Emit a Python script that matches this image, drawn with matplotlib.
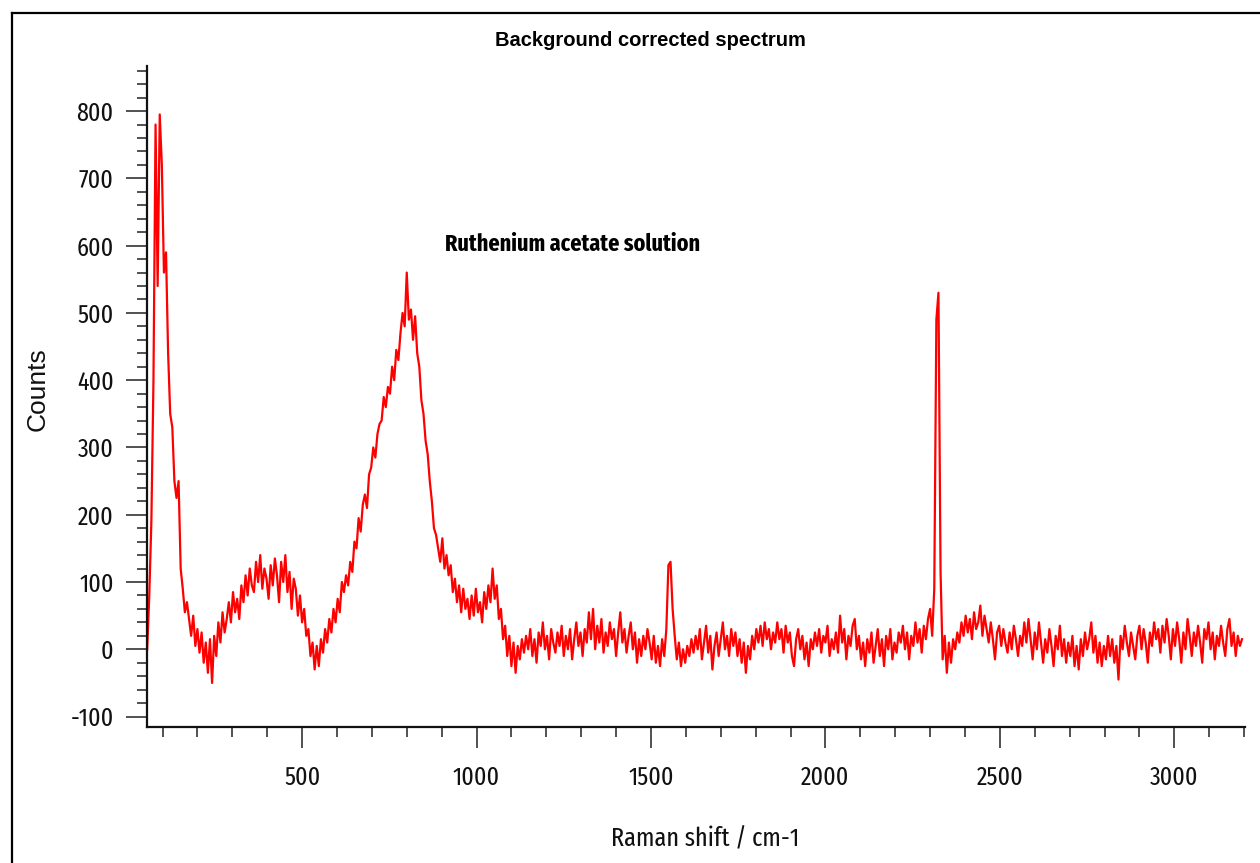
import numpy as np
import matplotlib
matplotlib.use("Agg")
import matplotlib.pyplot as plt
from matplotlib import font_manager
from matplotlib.font_manager import FontProperties
from matplotlib.lines import Line2D
from matplotlib.textpath import TextPath
from matplotlib.ticker import MultipleLocator

plt.rcParams["axes.unicode_minus"] = False
RED, INK = "#ff0000", "#111111"

# spectrum, one value every 6 cm-1 starting at 56 cm-1
lattice_band = [
    0, 80, 190, 400, 780, 540, 795, 720, 560, 590, 440, 350, 330, 250, 225, 250, 120, 90, 55, 70,
    45, 20, 50, 5, 30, -5, 25, -20, 10, -35, 15, -50, 20, -10, 40, 10, 55, 25, 45, 70,
    40, 85, 55, 75, 45, 95, 70, 110, 80, 120, 95, 85, 130, 100, 140, 90, 120, 105, 75, 125,
    95, 135, 110, 70, 130, 100, 140, 85, 115, 60, 105, 90, 50, 80, 40, 60, 20, 30, -10, 10,
]
acetate_band = [
    -30, 5, -25, 15, -5, 30, 10, 45, 25, 60, 40, 75, 55, 100, 85, 110, 95, 130, 115, 160,
    150, 195, 175, 215, 230, 210, 260, 270, 300, 285, 320, 335, 340, 375, 360, 390, 380, 420, 400, 445,
    430, 470, 500, 480, 560, 490, 505, 460, 495, 440, 420, 370, 350, 310, 290, 250, 220, 180, 170, 150,
    130, 165, 120, 140, 110, 125, 85, 105, 70, 95, 55, 90, 60, 75, 45, 80, 50, 90, 55, 70,
    40, 85, 60, 95, 70, 120, 75, 95, 45, 60, 15, 35, -10, 20, -25, 10, -35, 5, -15, 15,
]
baseline = [
    -5, 20, 0, 30, -10, 15, -20, 25, 5, 40, 0, 20, -15, 30, 10, -5, 25, 5, 35, -10,
    20, 0, 30, -15, 15, 40, 5, 25, -10, 30, 10, 55, 15, 60, 0, 35, 10, 45, -5, 25,
    5, 40, 15, 30, -10, 25, 55, 10, 30, -5, 20, 40, 0, 25, -20, 15, -10, 20, 0, 30,
    10, -15, 20, -20, 5, -25, 15, -10, 30, 125, 130, 60, 20, -15, 10, -25, 0, -20, 5, -10,
    15, -5, 20, 0, 30, -15, 10, 35, -5, 20, -30, 5, 25, -10, 15, 40, 0, 20, -10, 30,
    5, 25, -10, 15, -20, 10, -35, 5, -15, 20, 0, 30, 10, 35, 5, 40, 15, 30, 0, 25,
    10, 40, 15, 30, -5, 35, 10, 25, -10, -25, 15, 30, 0, 20, -15, 10, -25, 15, 0, 25,
    5, 30, -5, 20, 10, 35, -10, 15, 0, 25, -5, 50, 10, 30, -15, 20, 5, 35, 45, 0,
    20, -15, 10, -25, 15, -5, 25, -20, 5, 30, -10, 15, -25, 20, 0, 30, -15, 10, -5, 25,
    10, 35, 0, 25, -15, 20, 5, 40, 10, 30, -5, 35, 15, 45, 60, 20, 90, 490, 530, 115,
    -15, 20, -35, 10, -20, 15, 0, 25, 10, 40, 20, 50, 25, 45, 15, 55, 30, 40, 65, 20,
    50, 30, 10, 40, 15, -15, 25, 35, 5, 30, 10, -5, 25, 0, 35, 15, -10, 20, 5, 40,
    10, 45, 15, -15, 25, 0, 40, 10, -20, 15, -5, 30, 5, -25, 20, 0, 35, -10, 15, -20,
    10, -10, 20, -25, 5, -30, 15, -10, 25, 0, 15, 40, -5, 20, -20, 10, -25, 5, -15, 20,
    -10, 15, -20, 5, -45, 20, 0, 35, 10, -10, 25, 5, -15, 20, 35, 0, 30, 10, -20, 25,
    5, 40, 15, 30, -5, 35, 10, 45, 20, -15, 30, 5, 40, 15, -20, 25, 0, 45, 20, -10,
    25, 5, 35, 10, -20, 30, 15, 40, 0, 25, -15, 20, 5, 35, 10, -10, 30, 45, 5, 25,
    -10, 20, 5, 15,
]
START, STEP = 56, 6


def _weight(f):
    if isinstance(f.weight, int):
        return f.weight
    return 700 if "bold" in str(f.weight).lower() else 400


def narrow_font(bold=False):
    """Pick the most condensed sans that is installed; DejaVu condensed otherwise."""
    want = 700 if bold else 400
    prefs = ("ExtraCondensed", "Narrow", "Condensed")
    for key in prefs:
        for f in font_manager.fontManager.ttflist:
            label = (f.name + " " + str(f.stretch) + " " + f.fname).replace(" ", "")
            bad = any(b in label for b in ("Semi", "Mono", "Light", "Thin", "Medium",
                                           "Black", "Extra" + "Bold", "SemiBold"))
            if key in label and f.style == "normal" and not bad and _weight(f) == want:
                return FontProperties(fname=f.fname)
    return FontProperties(family="DejaVu Sans", stretch="condensed",
                          weight="bold" if bold else "normal")


def fit_size(text, prop, width_px, height_px):
    ext = TextPath((0, 0), text, size=10, prop=prop).get_extents()
    s_w = 10 * width_px / (ext.width * 100 / 72)
    s_h = 10 * height_px / (ext.height * 100 / 72)
    return min(s_w, s_h)


counts = np.array(lattice_band + acetate_band + baseline, dtype=float)
shift = START + STEP * np.arange(len(counts))

NAR = narrow_font()
NAR_B = narrow_font(bold=True)
tick_size = fit_size("3000", NAR, 47, 24)
ann_size = fit_size("Ruthenium acetate solution", NAR_B, 253, 23)
xl_size = fit_size("Raman shift / cm-1", NAR, 184, 30)

fig = plt.figure(figsize=(12.6, 8.63), dpi=100)
ax = fig.add_axes([0.1167, 0.158, 0.8715, 0.7655])
ax.plot(shift, counts, color=RED, lw=1.6)
ax.set_xlim(55.6, 3203)
ax.set_ylim(-115, 867)

for s in ("top", "right"):
    ax.spines[s].set_visible(False)
for s in ("left", "bottom"):
    ax.spines[s].set_linewidth(1.6)
    ax.spines[s].set_color(INK)

ax.xaxis.set_major_locator(MultipleLocator(500))
ax.xaxis.set_minor_locator(MultipleLocator(100))
ax.yaxis.set_major_locator(MultipleLocator(100))
ax.yaxis.set_minor_locator(MultipleLocator(20))
ax.tick_params(which="major", direction="out", length=15, width=1.2, color="#333333",
               labelcolor=INK)
ax.tick_params(which="minor", direction="out", length=7, width=1.2, color="#333333")
ax.tick_params(axis="x", which="major", pad=13)
ax.tick_params(axis="y", which="major", pad=9)
for lbl in ax.get_xticklabels() + ax.get_yticklabels():
    lbl.set_fontproperties(NAR)
    lbl.set_fontsize(tick_size)

ax.text(910, 602, "Ruthenium acetate solution", ha="left", va="center",
        fontproperties=NAR_B, fontsize=ann_size, color="black")

fig.text(0.516, 0.9525, "Background corrected spectrum", ha="center", va="center",
         fontsize=14.5, fontweight="bold", family="Liberation Sans", color="black")
fig.text(0.0302, 0.549, "Counts", rotation=90, ha="center", va="center",
         fontsize=19, family="Liberation Sans", color=INK)
fig.text(0.560, 0.028, "Raman shift / cm-1", ha="center", va="center",
         fontproperties=NAR, fontsize=xl_size, color=INK)

# outer frame (cut at right and bottom like the screenshot)
x0, y0 = 12 / 1260, 1 - 13.5 / 863
fig.add_artist(Line2D([x0, 1], [y0, y0], transform=fig.transFigure, color="black", lw=1.6))
fig.add_artist(Line2D([x0, x0], [0, y0], transform=fig.transFigure, color="black", lw=1.6))

fig.savefig("out.png", dpi=100, facecolor="white")
